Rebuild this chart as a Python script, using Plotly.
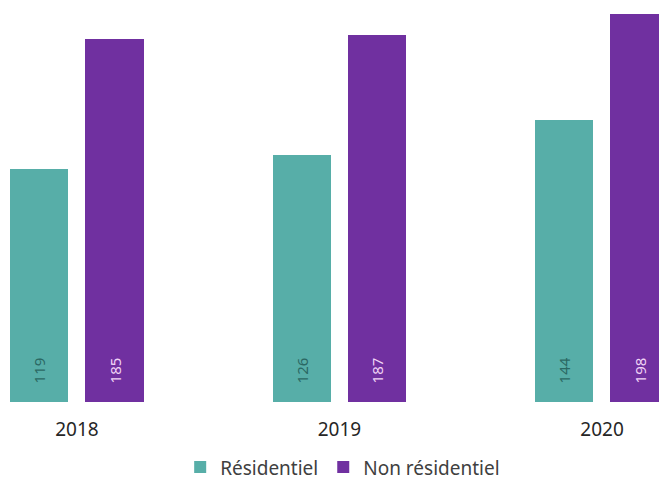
import plotly.graph_objects as go

# Data
years = ["2018", "2019", "2020"]
residentiel = [119, 126, 144]
non_residentiel = [185, 187, 198]

teal = "#57aea8"
purple = "#7030a0"

fig = go.Figure()
fig.add_trace(go.Bar(
    x=years, y=residentiel, name="Résidentiel",
    marker=dict(color=teal, line=dict(width=0)),
    width=0.222, offset=-0.255,
    text=residentiel, texttemplate="\u00a0\u00a0\u00a0\u00a0%{text}",
    textposition="inside", insidetextanchor="start", textangle=-90,
    insidetextfont=dict(color="#2b6863", size=15, family="Noto Sans"),
))
fig.add_trace(go.Bar(
    x=years, y=non_residentiel, name="Non résidentiel",
    marker=dict(color=purple, line=dict(width=0)),
    width=0.224, offset=0.031,
    text=non_residentiel, texttemplate="\u00a0\u00a0\u00a0\u00a0%{text}",
    textposition="inside", insidetextanchor="start", textangle=-90,
    insidetextfont=dict(color="#f0d4f6", size=15, family="Noto Sans"),
))

fig.update_layout(
    width=659, height=483,
    barmode="overlay",
    plot_bgcolor="white", paper_bgcolor="white",
    margin=dict(l=0, r=0, t=0, b=81, autoexpand=False),
    font=dict(family="Noto Sans", size=19, color="#333333"),
    xaxis=dict(
        range=[-0.293, 2.217], showgrid=False, showline=False, zeroline=False,
        ticks="outside", ticklen=10, tickcolor="white",
        tickfont=dict(size=19, color="#262626"),
    ),
    yaxis=dict(range=[0, 205.1], visible=False),
    legend=dict(
        orientation="h", x=0.52, xanchor="center", y=-0.115, yanchor="top",
        font=dict(size=19, color="#404040"), itemwidth=30,
    ),
    bargap=0,
)

fig.write_html("out.html", config={"displayModeBar": False},
               post_script="document.body.style.margin='0';")
